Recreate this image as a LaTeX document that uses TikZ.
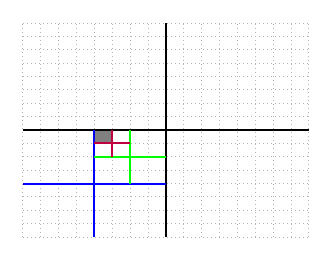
\documentclass[tikz,border=0pt]{standalone}
\begin{document}
\begin{tikzpicture}[x=17.875pt,y=13.375pt,
  gridline/.style={gray!60,dash pattern=on 1.2pt off 2.8pt,line width=1pt},
  axisline/.style={black,line width=2.4pt},
  colline/.style={line width=2pt}]
\useasboundingbox (-166pt,-130pt) rectangle (166pt,130pt);
\draw[gridline] (-8,-8) grid[step=1] (8,8);
\fill[gray] (-4,-1) rectangle (-3,0);
\draw[axisline] (-8,0) -- (8,0);
\draw[axisline] (0,-8) -- (0,8);
\draw[colline,blue] (-4,0) -- (-4,-8);
\draw[colline,blue] (-8,-4) -- (0,-4);
\draw[colline,green] (-2,0) -- (-2,-4);
\draw[colline,green] (-4,-2) -- (0,-2);
\draw[colline,purple] (-3,0) -- (-3,-2);
\draw[colline,purple] (-4,-1) -- (-2,-1);
\end{tikzpicture}
\end{document}
